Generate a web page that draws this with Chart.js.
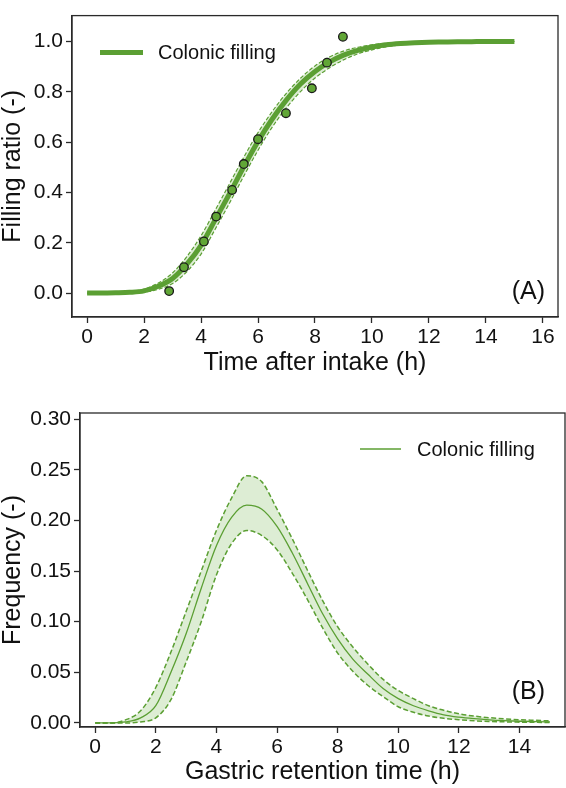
<!DOCTYPE html>
<html>
<head>
<meta charset="utf-8">
<script src="https://cdn.jsdelivr.net/npm/chart.js@4"></script>
<style>
  html, body { margin: 0; padding: 0; background: #ffffff; }
  body { width: 566px; height: 788px; position: relative; overflow: hidden; }
  #wrapA { position: absolute; left: 0; top: 0; width: 566px; height: 390px; }
  #wrapB { position: absolute; left: 0; top: 390px; width: 566px; height: 398px; }
</style>
</head>
<body>
<div id="wrapA"><canvas id="chartA" width="566" height="390"></canvas></div>
<div id="wrapB"><canvas id="chartB" width="566" height="398"></canvas></div>
<script>
// ---------------- DATA ----------------
// Panel A: time grid (h)
const timeA = [0,0.5,1,1.5,2,2.5,3,3.5,4,4.5,5,5.5,6,6.5,7,7.5,8,8.5,9,9.5,10,10.5,11,11.5,12,12.5,13,13.5,14,14.5,15];
const fillMain = [0,0,0.001,0.003,0.009,0.027,0.058,0.115,0.19,0.292,0.395,0.502,0.603,0.692,0.768,0.832,0.881,0.918,0.946,0.965,0.978,0.987,0.992,0.995,0.997,0.998,0.999,0.9995,1,1,1];
const fillUpper = [0,0,0.002,0.006,0.016,0.04,0.08,0.145,0.228,0.33,0.435,0.54,0.638,0.722,0.795,0.855,0.903,0.938,0.962,0.977,0.987,0.993,0.996,0.998,0.999,0.9995,1,1,1,1,1];
const fillLower = [0,0,0,0.001,0.004,0.015,0.038,0.085,0.155,0.255,0.358,0.465,0.568,0.66,0.737,0.802,0.855,0.895,0.927,0.951,0.967,0.979,0.987,0.992,0.995,0.997,0.998,0.999,1,1,1];
// observed points
const obsTime  = [2.88,3.40,4.10,4.53,5.09,5.50,6.00,6.98,7.89,8.42,8.98];
const obsRatio = [0.008,0.103,0.205,0.304,0.41,0.513,0.612,0.715,0.814,0.916,1.019];
const xTicksA = [0,2,4,6,8,10,12,14,16];
const yTicksA = [0,0.2,0.4,0.6,0.8,1.0];

// Panel B: gastric retention time (h)
const timeB = [0,0.5,1,1.5,2,2.5,3,3.5,4,4.5,5,5.5,6,6.5,7,7.5,8,8.5,9,9.5,10,10.5,11,11.5,12,12.5,13,13.5,14,14.5,15];
const freqMain = [0,0,0.001,0.005,0.017,0.05,0.088,0.133,0.175,0.203,0.215,0.211,0.194,0.168,0.138,0.108,0.083,0.063,0.048,0.034,0.024,0.017,0.012,0.008,0.0057,0.0042,0.0031,0.0023,0.0017,0.0013,0.001];
const freqUpper = [0,0,0.003,0.012,0.035,0.07,0.11,0.15,0.19,0.222,0.244,0.238,0.211,0.182,0.151,0.121,0.095,0.075,0.058,0.043,0.032,0.024,0.017,0.0125,0.009,0.0068,0.0052,0.004,0.0032,0.0026,0.002];
const freqLower = [0,0,0,0.001,0.005,0.023,0.06,0.1,0.146,0.177,0.19,0.185,0.171,0.148,0.122,0.094,0.069,0.051,0.037,0.026,0.016,0.0105,0.0068,0.0046,0.0032,0.0022,0.0015,0.0011,0.0008,0.0006,0.0004];
const xTicksB = [0,2,4,6,8,10,12,14];
const yTicksB = [0,0.05,0.10,0.15,0.20,0.25,0.30];

const seriesLabel = 'Colonic filling';

// ---------------- STYLE ----------------
const GREEN = '#5b9f33';
const BAND = 'rgba(100,175,60,0.22)';
const AXIS = '#2a2a2a';
const TEXT = '#111111';
const FONT = '"Liberation Sans", Arial, Helvetica, sans-serif';

Chart.defaults.font.family = FONT;
Chart.defaults.color = TEXT;

const pts = (xs, ys) => xs.map((x, i) => ({ x: x, y: ys[i] }));

const framePlugin = {
  id: 'frameDeco',
  afterDraw(chart, args, o) {
    const ctx = chart.ctx, a = chart.chartArea;
    ctx.save();
    ctx.strokeStyle = AXIS;
    ctx.lineWidth = 1.3;
    ctx.strokeRect(a.left, a.top, a.right - a.left, a.bottom - a.top);
    // panel label
    ctx.fillStyle = TEXT;
    ctx.font = '25px ' + FONT;
    ctx.textAlign = 'right';
    ctx.textBaseline = 'middle';
    ctx.fillText(o.panel, a.right + o.panelDx, a.bottom + o.panelDy);
    // legend
    const ds = chart.data.datasets[o.legendIndex];
    ctx.strokeStyle = ds.borderColor;
    ctx.lineWidth = o.legendLineWidth;
    ctx.lineCap = 'butt';
    ctx.beginPath();
    ctx.moveTo(a.left + o.lx, a.top + o.ly);
    ctx.lineTo(a.left + o.lx + o.lw, a.top + o.ly);
    ctx.stroke();
    ctx.textAlign = 'left';
    ctx.font = '20px ' + FONT;
    ctx.fillText(ds.label, a.left + o.lx + o.lw + o.gap, a.top + o.ly + 1);
    ctx.restore();
  }
};

function axisCommon(ticksArr, fmt, tickLen, pad) {
  return {
    type: 'linear',
    afterBuildTicks: s => { s.ticks = ticksArr.map(v => ({ value: v })); },
    ticks: { font: { size: 21 }, color: TEXT, padding: pad, callback: fmt, maxRotation: 0, autoSkip: false },
    grid: { drawOnChartArea: false, drawTicks: true, tickLength: tickLen, tickColor: AXIS, tickWidth: 1.3, color: AXIS },
    border: { display: true, color: AXIS, width: 1.3 }
  };
}

// ---------------- CHART A ----------------
const xA = axisCommon(xTicksA, v => String(v), 6, 2);
Object.assign(xA, {
  min: -0.53, max: 16.53,
  title: { display: true, text: 'Time after intake (h)', font: { size: 25, lineHeight: 1.2 }, color: TEXT, padding: { top: 0, bottom: 12 } },
  afterFit: s => { s.height = 73; }
});
const yA = axisCommon(yTicksA, v => v.toFixed(1), 6, 3);
Object.assign(yA, {
  min: -0.095, max: 1.103,
  title: { display: true, text: 'Filling ratio (-)', font: { size: 25, lineHeight: 1.05 }, color: TEXT, padding: { top: 0, bottom: 0 } },
  afterFit: s => { s.width = 72; }
});

new Chart(document.getElementById('chartA'), {
  type: 'line',
  data: {
    datasets: [
      { label: 'Observed', data: pts(obsTime, obsRatio), showLine: false,
        pointRadius: 4.3, pointBackgroundColor: '#61a636', pointBorderColor: '#1a1a1a', pointBorderWidth: 1.3 },
      { label: seriesLabel, data: pts(timeA, fillMain), borderColor: GREEN, borderWidth: 5,
        pointRadius: 0, cubicInterpolationMode: 'monotone', fill: false },
      { label: 'upper', data: pts(timeA, fillUpper), borderColor: GREEN, borderWidth: 1.2, borderDash: [4, 2],
        pointRadius: 0, cubicInterpolationMode: 'monotone', fill: '+1', backgroundColor: BAND },
      { label: 'lower', data: pts(timeA, fillLower), borderColor: GREEN, borderWidth: 1.2, borderDash: [4, 2],
        pointRadius: 0, cubicInterpolationMode: 'monotone', fill: false }
    ]
  },
  options: {
    responsive: false, animation: false, devicePixelRatio: 1,
    layout: { padding: { left: 0, right: 8, top: 2, bottom: 0 } },
    scales: { x: xA, y: yA },
    plugins: {
      legend: { display: false }, tooltip: { enabled: false },
      filler: { drawTime: 'beforeDatasetsDraw' },
      frameDeco: { panel: '(A)', panelDx: -13, panelDy: -25, legendIndex: 1, legendLineWidth: 5, lx: 28, ly: 37, lw: 43, gap: 15 }
    }
  },
  plugins: [framePlugin]
});

// ---------------- CHART B ----------------
const xB = axisCommon(xTicksB, v => String(v), 6, 2);
Object.assign(xB, {
  min: -0.5, max: 15.5,
  title: { display: true, text: 'Gastric retention time (h)', font: { size: 25, lineHeight: 1.2 }, color: TEXT, padding: { top: 0, bottom: 1 } },
  afterFit: s => { s.height = 61; }
});
const yB = axisCommon(yTicksB, v => v.toFixed(2), 6, 3);
Object.assign(yB, {
  min: -0.004, max: 0.306,
  title: { display: true, text: 'Frequency (-)', font: { size: 25, lineHeight: 1.05 }, color: TEXT, padding: { top: 0, bottom: 0 } },
  afterFit: s => { s.width = 80; }
});

new Chart(document.getElementById('chartB'), {
  type: 'line',
  data: {
    datasets: [
      { label: seriesLabel, data: pts(timeB, freqMain), borderColor: GREEN, borderWidth: 1.3,
        pointRadius: 0, cubicInterpolationMode: 'monotone', fill: false },
      { label: 'upper', data: pts(timeB, freqUpper), borderColor: GREEN, borderWidth: 1.5, borderDash: [5, 2.5],
        pointRadius: 0, cubicInterpolationMode: 'monotone', fill: '+1', backgroundColor: BAND },
      { label: 'lower', data: pts(timeB, freqLower), borderColor: GREEN, borderWidth: 1.5, borderDash: [5, 2.5],
        pointRadius: 0, cubicInterpolationMode: 'monotone', fill: false }
    ]
  },
  options: {
    responsive: false, animation: false, devicePixelRatio: 1,
    layout: { padding: { left: 0, right: 1, top: 23, bottom: 0 } },
    scales: { x: xB, y: yB },
    plugins: {
      legend: { display: false }, tooltip: { enabled: false },
      filler: { drawTime: 'beforeDatasetsDraw' },
      frameDeco: { panel: '(B)', panelDx: -20, panelDy: -35, legendIndex: 0, legendLineWidth: 1.5, lx: 280, ly: 36, lw: 41, gap: 16 }
    }
  },
  plugins: [framePlugin]
});
</script>
</body>
</html>
